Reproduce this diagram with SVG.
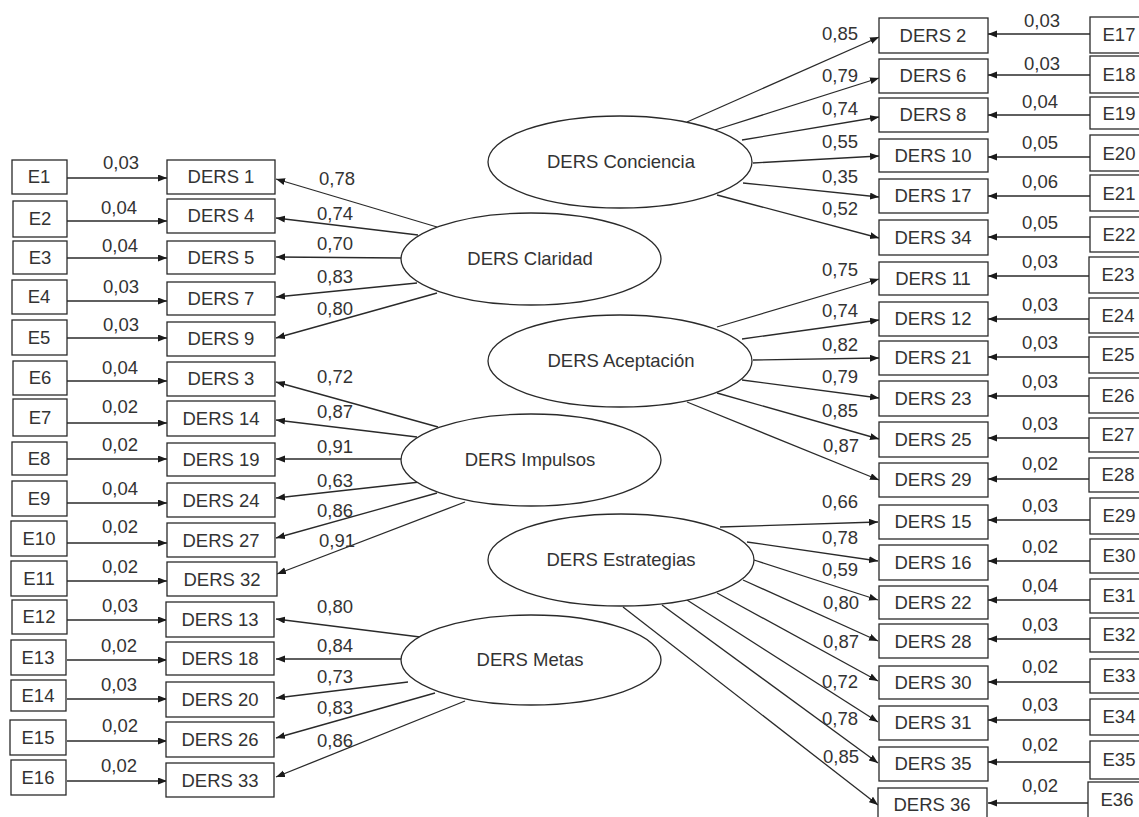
<svg xmlns="http://www.w3.org/2000/svg" width="1139" height="817" viewBox="0 0 1139 817">
<style>
.bx{fill:#fff;stroke:#2a2a2a;stroke-width:1.3}
.el{fill:#fff;stroke:#2a2a2a;stroke-width:1.3}
.t{font-family:"Liberation Sans",Arial,sans-serif;font-size:18.5px;fill:#333;text-anchor:middle}
.c line{stroke:#2a2a2a;stroke-width:1.3;marker-end:url(#ah)}
</style>
<defs>
<marker id="ah" markerUnits="userSpaceOnUse" markerWidth="10" markerHeight="8" refX="9" refY="3.5" orient="auto">
<path d="M0,0 L9,3.5 L0,7 z" fill="#1a1a1a"/>
</marker>
</defs>
<rect width="1139" height="817" fill="#fff"/>

<g id="connectors" class="c">
<line x1="67" y1="178" x2="167" y2="178"/>
<line x1="67" y1="221" x2="167" y2="221"/>
<line x1="67" y1="258" x2="167" y2="258"/>
<line x1="67" y1="301" x2="167" y2="301"/>
<line x1="67" y1="338" x2="167" y2="338"/>
<line x1="67" y1="381" x2="167" y2="381"/>
<line x1="67" y1="423" x2="167" y2="423"/>
<line x1="67" y1="459" x2="167" y2="459"/>
<line x1="67" y1="503" x2="167" y2="503"/>
<line x1="67" y1="543" x2="167" y2="543"/>
<line x1="67" y1="581" x2="167" y2="581"/>
<line x1="67" y1="620" x2="167" y2="620"/>
<line x1="67" y1="660" x2="167" y2="660"/>
<line x1="67" y1="699" x2="167" y2="699"/>
<line x1="67" y1="741" x2="167" y2="741"/>
<line x1="67" y1="781" x2="167" y2="781"/>
<line x1="1090" y1="34" x2="988" y2="34"/>
<line x1="1090" y1="75" x2="988" y2="75"/>
<line x1="1090" y1="115" x2="988" y2="115"/>
<line x1="1090" y1="157" x2="988" y2="157"/>
<line x1="1090" y1="196" x2="988" y2="196"/>
<line x1="1090" y1="237" x2="988" y2="237"/>
<line x1="1090" y1="276" x2="988" y2="276"/>
<line x1="1090" y1="319" x2="988" y2="319"/>
<line x1="1090" y1="357" x2="988" y2="357"/>
<line x1="1090" y1="396" x2="988" y2="396"/>
<line x1="1090" y1="438" x2="988" y2="438"/>
<line x1="1090" y1="479" x2="988" y2="479"/>
<line x1="1090" y1="520" x2="988" y2="520"/>
<line x1="1090" y1="561" x2="988" y2="561"/>
<line x1="1090" y1="600" x2="988" y2="600"/>
<line x1="1090" y1="639" x2="988" y2="639"/>
<line x1="1090" y1="682" x2="988" y2="682"/>
<line x1="1090" y1="720" x2="988" y2="720"/>
<line x1="1090" y1="762" x2="988" y2="762"/>
<line x1="1090" y1="803" x2="988" y2="803"/>
<line x1="437" y1="227" x2="276" y2="179"/>
<line x1="418" y1="235" x2="276" y2="218"/>
<line x1="401" y1="258" x2="276" y2="257"/>
<line x1="417" y1="283" x2="276" y2="297"/>
<line x1="437" y1="293" x2="276" y2="338"/>
<line x1="438" y1="427" x2="276" y2="382"/>
<line x1="417" y1="437" x2="276" y2="420"/>
<line x1="401" y1="459" x2="276" y2="459"/>
<line x1="420" y1="482" x2="276" y2="498"/>
<line x1="437" y1="493" x2="276" y2="538"/>
<line x1="465" y1="502" x2="277" y2="574"/>
<line x1="420" y1="637" x2="276" y2="619"/>
<line x1="401" y1="659" x2="276" y2="659"/>
<line x1="408" y1="682" x2="276" y2="698"/>
<line x1="435" y1="693" x2="276" y2="738"/>
<line x1="465" y1="701" x2="276" y2="777"/>
<line x1="687" y1="122" x2="879" y2="37"/>
<line x1="715" y1="130" x2="879" y2="78"/>
<line x1="742" y1="140" x2="879" y2="117"/>
<line x1="753" y1="163" x2="879" y2="156"/>
<line x1="743" y1="183" x2="879" y2="197"/>
<line x1="717" y1="195" x2="879" y2="238"/>
<line x1="717" y1="327" x2="879" y2="279"/>
<line x1="742" y1="339" x2="879" y2="320"/>
<line x1="753" y1="360" x2="879" y2="358"/>
<line x1="742" y1="380" x2="879" y2="398"/>
<line x1="717" y1="393" x2="879" y2="439"/>
<line x1="687" y1="402" x2="879" y2="480"/>
<line x1="720" y1="527" x2="878" y2="522"/>
<line x1="747" y1="542" x2="878" y2="561"/>
<line x1="754" y1="560" x2="878" y2="600"/>
<line x1="743" y1="580" x2="878" y2="641"/>
<line x1="717" y1="593" x2="878" y2="681"/>
<line x1="687" y1="600" x2="878" y2="722"/>
<line x1="662" y1="605" x2="878" y2="763"/>
<line x1="623" y1="607" x2="878" y2="805"/>
</g>

<g id="connector-labels" class="t">
<text x="121" y="169">0,03</text>
<text x="119" y="214">0,04</text>
<text x="120" y="252">0,04</text>
<text x="121" y="293">0,03</text>
<text x="121" y="331">0,03</text>
<text x="120" y="374">0,04</text>
<text x="120" y="413">0,02</text>
<text x="120" y="451">0,02</text>
<text x="120" y="495">0,04</text>
<text x="120" y="533">0,02</text>
<text x="120" y="573">0,02</text>
<text x="120" y="612">0,03</text>
<text x="119" y="652">0,02</text>
<text x="119" y="691">0,03</text>
<text x="120" y="732">0,02</text>
<text x="119" y="772">0,02</text>

<text x="1042" y="27">0,03</text>
<text x="1042" y="70">0,03</text>
<text x="1040" y="108">0,04</text>
<text x="1040" y="149">0,05</text>
<text x="1040" y="188">0,06</text>
<text x="1040" y="229">0,05</text>
<text x="1040" y="268">0,03</text>
<text x="1040" y="311">0,03</text>
<text x="1040" y="349">0,03</text>
<text x="1040" y="388">0,03</text>
<text x="1040" y="430">0,03</text>
<text x="1040" y="470">0,02</text>
<text x="1040" y="512">0,03</text>
<text x="1040" y="553">0,02</text>
<text x="1040" y="592">0,04</text>
<text x="1040" y="631">0,03</text>
<text x="1040" y="673">0,02</text>
<text x="1040" y="711">0,03</text>
<text x="1040" y="751">0,02</text>
<text x="1040" y="792">0,02</text>

<text x="337" y="185">0,78</text>
<text x="335" y="220">0,74</text>
<text x="335" y="250">0,70</text>
<text x="335" y="283">0,83</text>
<text x="335" y="315">0,80</text>
<text x="335" y="383">0,72</text>
<text x="335" y="418">0,87</text>
<text x="335" y="453">0,91</text>
<text x="335" y="487">0,63</text>
<text x="335" y="517">0,86</text>
<text x="337" y="547">0,91</text>
<text x="335" y="613">0,80</text>
<text x="335" y="652">0,84</text>
<text x="335" y="683">0,73</text>
<text x="335" y="714">0,83</text>
<text x="335" y="747">0,86</text>

<text x="840" y="40">0,85</text>
<text x="840" y="82">0,79</text>
<text x="840" y="115">0,74</text>
<text x="840" y="148">0,55</text>
<text x="840" y="183">0,35</text>
<text x="840" y="215">0,52</text>
<text x="840" y="276">0,75</text>
<text x="840" y="317">0,74</text>
<text x="840" y="351">0,82</text>
<text x="840" y="383">0,79</text>
<text x="840" y="417">0,85</text>
<text x="841" y="452">0,87</text>
<text x="840" y="508">0,66</text>
<text x="840" y="544">0,78</text>
<text x="840" y="576">0,59</text>
<text x="841" y="609">0,80</text>
<text x="841" y="648">0,87</text>
<text x="840" y="688">0,72</text>
<text x="840" y="725">0,78</text>
<text x="841" y="763">0,85</text>
</g>

<g id="f-conciencia"><ellipse class="el" cx="620" cy="162" rx="132" ry="46"/><text class="t" x="621" y="168">DERS Conciencia</text></g>
<g id="f-claridad"><ellipse class="el" cx="531" cy="259" rx="130" ry="46"/><text class="t" x="530" y="265">DERS Claridad</text></g>
<g id="f-aceptacion"><ellipse class="el" cx="620" cy="361" rx="132" ry="46"/><text class="t" x="621" y="367">DERS Aceptación</text></g>
<g id="f-impulsos"><ellipse class="el" cx="531" cy="460" rx="130" ry="46"/><text class="t" x="530" y="466">DERS Impulsos</text></g>
<g id="f-estrategias"><ellipse class="el" cx="621" cy="560" rx="133" ry="46"/><text class="t" x="621" y="566">DERS Estrategias</text></g>
<g id="f-metas"><ellipse class="el" cx="531" cy="660" rx="130" ry="45"/><text class="t" x="530" y="666">DERS Metas</text></g>

<g id="d1"><rect class="bx" x="167" y="160" width="108" height="34"/><text class="t" x="221" y="183">DERS 1</text></g>
<g id="d4"><rect class="bx" x="167" y="199" width="108" height="34"/><text class="t" x="221" y="222">DERS 4</text></g>
<g id="d5"><rect class="bx" x="167" y="241" width="108" height="33"/><text class="t" x="221" y="264">DERS 5</text></g>
<g id="d7"><rect class="bx" x="167" y="282" width="108" height="33"/><text class="t" x="221" y="305">DERS 7</text></g>
<g id="d9"><rect class="bx" x="167" y="322" width="108" height="34"/><text class="t" x="221" y="345">DERS 9</text></g>
<g id="d3"><rect class="bx" x="167" y="362" width="108" height="34"/><text class="t" x="221" y="385">DERS 3</text></g>
<g id="d14"><rect class="bx" x="167" y="401" width="108" height="35"/><text class="t" x="221" y="425">DERS 14</text></g>
<g id="d19"><rect class="bx" x="167" y="443" width="108" height="33"/><text class="t" x="221" y="466">DERS 19</text></g>
<g id="d24"><rect class="bx" x="167" y="483" width="108" height="34"/><text class="t" x="221" y="507">DERS 24</text></g>
<g id="d27"><rect class="bx" x="167" y="523" width="108" height="34"/><text class="t" x="221" y="547">DERS 27</text></g>
<g id="d32"><rect class="bx" x="167" y="562" width="110" height="34"/><text class="t" x="222" y="586">DERS 32</text></g>
<g id="d13"><rect class="bx" x="166" y="602" width="108" height="35"/><text class="t" x="220" y="626">DERS 13</text></g>
<g id="d18"><rect class="bx" x="166" y="642" width="108" height="33"/><text class="t" x="220" y="665">DERS 18</text></g>
<g id="d20"><rect class="bx" x="166" y="682" width="108" height="35"/><text class="t" x="220" y="706">DERS 20</text></g>
<g id="d26"><rect class="bx" x="166" y="722" width="108" height="35"/><text class="t" x="220" y="746">DERS 26</text></g>
<g id="d33"><rect class="bx" x="166" y="763" width="108" height="34"/><text class="t" x="220" y="787">DERS 33</text></g>

<g id="e1"><rect class="bx" x="12" y="160" width="55" height="34"/><text class="t" x="39" y="183">E1</text></g>
<g id="e2"><rect class="bx" x="13" y="201" width="54" height="36"/><text class="t" x="40" y="225">E2</text></g>
<g id="e3"><rect class="bx" x="13" y="241" width="54" height="33"/><text class="t" x="40" y="264">E3</text></g>
<g id="e4"><rect class="bx" x="12" y="280" width="55" height="34"/><text class="t" x="39" y="303">E4</text></g>
<g id="e5"><rect class="bx" x="12" y="320" width="55" height="35"/><text class="t" x="39" y="344">E5</text></g>
<g id="e6"><rect class="bx" x="13" y="361" width="54" height="34"/><text class="t" x="40" y="384">E6</text></g>
<g id="e7"><rect class="bx" x="13" y="399" width="54" height="37"/><text class="t" x="40" y="424">E7</text></g>
<g id="e8"><rect class="bx" x="12" y="442" width="55" height="33"/><text class="t" x="39" y="465">E8</text></g>
<g id="e9"><rect class="bx" x="12" y="481" width="55" height="35"/><text class="t" x="39" y="505">E9</text></g>
<g id="e10"><rect class="bx" x="11" y="521" width="56" height="35"/><text class="t" x="39" y="545">E10</text></g>
<g id="e11"><rect class="bx" x="11" y="561" width="56" height="35"/><text class="t" x="39" y="585">E11</text></g>
<g id="e12"><rect class="bx" x="12" y="600" width="55" height="34"/><text class="t" x="39" y="623">E12</text></g>
<g id="e13"><rect class="bx" x="11" y="640" width="55" height="35"/><text class="t" x="38" y="664">E13</text></g>
<g id="e14"><rect class="bx" x="11" y="680" width="55" height="31"/><text class="t" x="38" y="702">E14</text></g>
<g id="e15"><rect class="bx" x="10" y="720" width="56" height="35"/><text class="t" x="38" y="744">E15</text></g>
<g id="e16"><rect class="bx" x="11" y="760" width="55" height="35"/><text class="t" x="38" y="784">E16</text></g>

<g id="d2"><rect class="bx" x="879" y="18" width="109" height="35"/><text class="t" x="933" y="42">DERS 2</text></g>
<g id="d6"><rect class="bx" x="879" y="59" width="109" height="34"/><text class="t" x="933" y="82">DERS 6</text></g>
<g id="d8"><rect class="bx" x="879" y="98" width="109" height="34"/><text class="t" x="933" y="121">DERS 8</text></g>
<g id="d10"><rect class="bx" x="879" y="139" width="109" height="33"/><text class="t" x="933" y="162">DERS 10</text></g>
<g id="d17"><rect class="bx" x="879" y="179" width="109" height="34"/><text class="t" x="933" y="202">DERS 17</text></g>
<g id="d34"><rect class="bx" x="879" y="220" width="109" height="35"/><text class="t" x="933" y="244">DERS 34</text></g>
<g id="d11"><rect class="bx" x="879" y="262" width="109" height="33"/><text class="t" x="933" y="285">DERS 11</text></g>
<g id="d12"><rect class="bx" x="879" y="302" width="109" height="34"/><text class="t" x="933" y="325">DERS 12</text></g>
<g id="d21"><rect class="bx" x="879" y="341" width="109" height="34"/><text class="t" x="933" y="364">DERS 21</text></g>
<g id="d23"><rect class="bx" x="879" y="381" width="109" height="35"/><text class="t" x="933" y="405">DERS 23</text></g>
<g id="d25"><rect class="bx" x="879" y="422" width="109" height="35"/><text class="t" x="933" y="446">DERS 25</text></g>
<g id="d29"><rect class="bx" x="879" y="463" width="109" height="34"/><text class="t" x="933" y="486">DERS 29</text></g>
<g id="d15"><rect class="bx" x="879" y="505" width="109" height="34"/><text class="t" x="933" y="528">DERS 15</text></g>
<g id="d16"><rect class="bx" x="879" y="545" width="109" height="35"/><text class="t" x="933" y="569">DERS 16</text></g>
<g id="d22"><rect class="bx" x="879" y="586" width="109" height="33"/><text class="t" x="933" y="609">DERS 22</text></g>
<g id="d28"><rect class="bx" x="879" y="624" width="109" height="34"/><text class="t" x="933" y="648">DERS 28</text></g>
<g id="d30"><rect class="bx" x="879" y="666" width="109" height="33"/><text class="t" x="933" y="689">DERS 30</text></g>
<g id="d31"><rect class="bx" x="879" y="706" width="109" height="34"/><text class="t" x="933" y="729">DERS 31</text></g>
<g id="d35"><rect class="bx" x="879" y="747" width="109" height="34"/><text class="t" x="933" y="770">DERS 35</text></g>
<g id="d36"><rect class="bx" x="878" y="788" width="109" height="34"/><text class="t" x="932" y="811">DERS 36</text></g>

<g id="e17"><rect class="bx" x="1090" y="17" width="56" height="36"/><text class="t" x="1119" y="41">E17</text></g>
<g id="e18"><rect class="bx" x="1090" y="56" width="56" height="37"/><text class="t" x="1119" y="81">E18</text></g>
<g id="e19"><rect class="bx" x="1090" y="97" width="56" height="32"/><text class="t" x="1119" y="120">E19</text></g>
<g id="e20"><rect class="bx" x="1090" y="135" width="56" height="36"/><text class="t" x="1119" y="160">E20</text></g>
<g id="e21"><rect class="bx" x="1090" y="175" width="56" height="36"/><text class="t" x="1119" y="200">E21</text></g>
<g id="e22"><rect class="bx" x="1090" y="217" width="56" height="35"/><text class="t" x="1119" y="241">E22</text></g>
<g id="e23"><rect class="bx" x="1089" y="257" width="56" height="36"/><text class="t" x="1118" y="281">E23</text></g>
<g id="e24"><rect class="bx" x="1089" y="298" width="56" height="35"/><text class="t" x="1118" y="322">E24</text></g>
<g id="e25"><rect class="bx" x="1089" y="337" width="56" height="36"/><text class="t" x="1118" y="361">E25</text></g>
<g id="e26"><rect class="bx" x="1089" y="378" width="56" height="35"/><text class="t" x="1118" y="402">E26</text></g>
<g id="e27"><rect class="bx" x="1089" y="418" width="56" height="34"/><text class="t" x="1118" y="441">E27</text></g>
<g id="e28"><rect class="bx" x="1089" y="458" width="56" height="34"/><text class="t" x="1118" y="481">E28</text></g>
<g id="e29"><rect class="bx" x="1090" y="498" width="56" height="36"/><text class="t" x="1119" y="522">E29</text></g>
<g id="e30"><rect class="bx" x="1090" y="539" width="56" height="34"/><text class="t" x="1119" y="562">E30</text></g>
<g id="e31"><rect class="bx" x="1090" y="579" width="56" height="34"/><text class="t" x="1119" y="602">E31</text></g>
<g id="e32"><rect class="bx" x="1090" y="618" width="56" height="34"/><text class="t" x="1119" y="641">E32</text></g>
<g id="e33"><rect class="bx" x="1090" y="659" width="56" height="34"/><text class="t" x="1119" y="682">E33</text></g>
<g id="e34"><rect class="bx" x="1090" y="699" width="56" height="36"/><text class="t" x="1119" y="723">E34</text></g>
<g id="e35"><rect class="bx" x="1090" y="741" width="56" height="38"/><text class="t" x="1119" y="766">E35</text></g>
<g id="e36"><rect class="bx" x="1088" y="782" width="56" height="36"/><text class="t" x="1117" y="806">E36</text></g>
</svg>
